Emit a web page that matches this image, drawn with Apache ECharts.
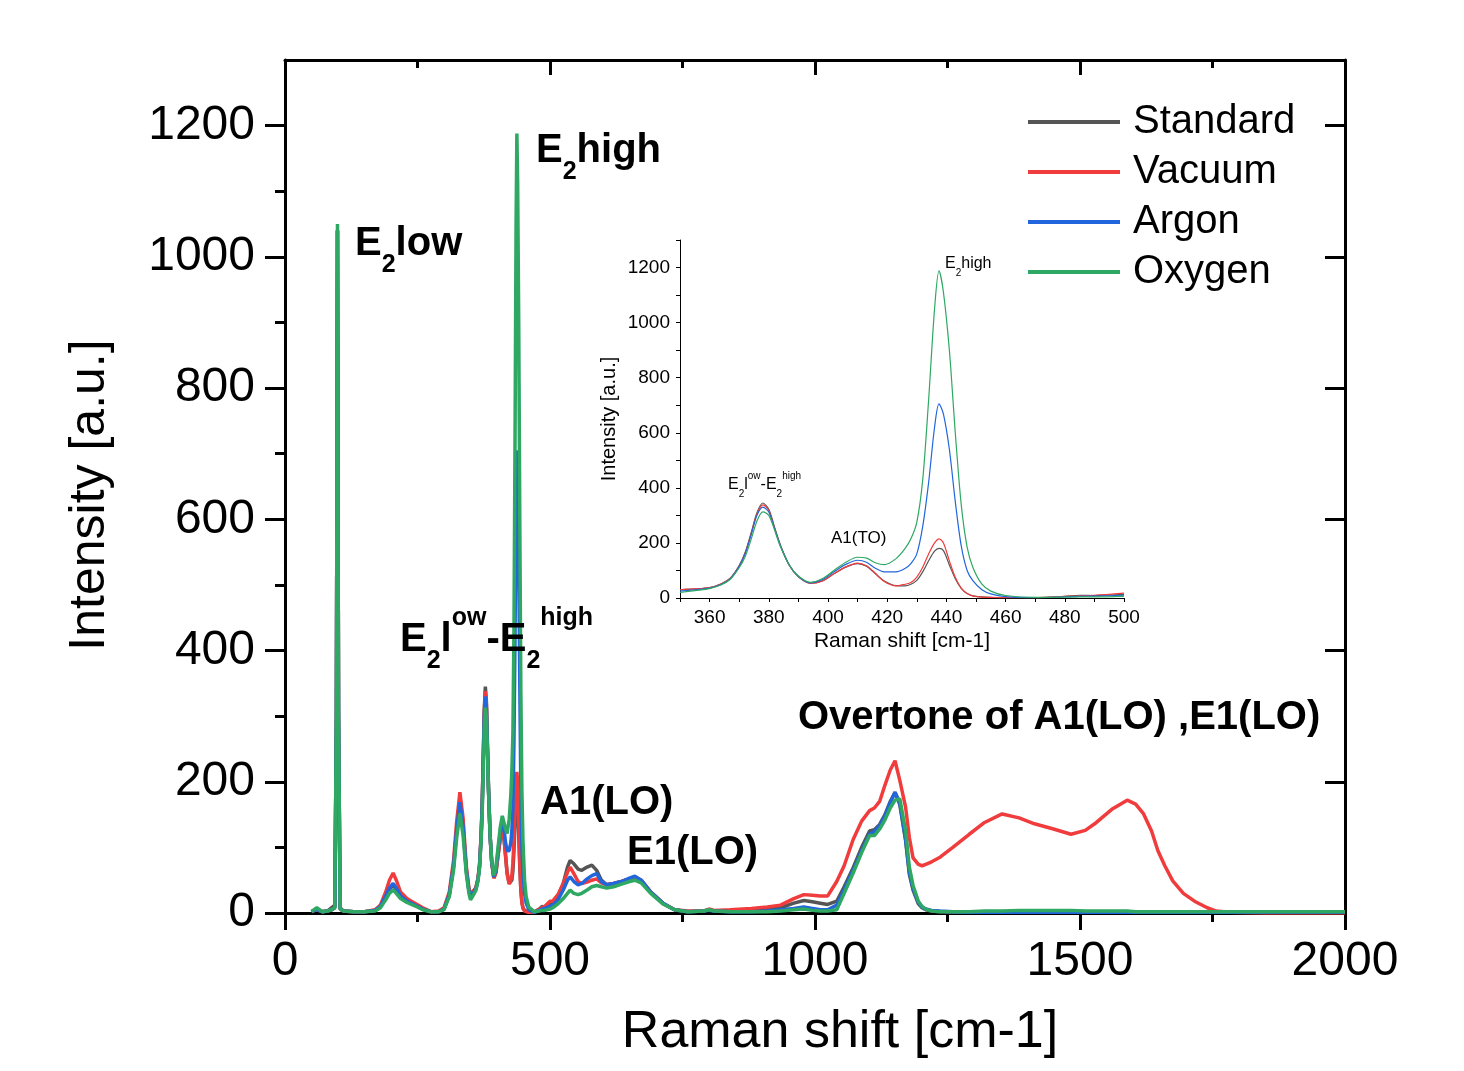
<!DOCTYPE html>
<html>
<head>
<meta charset="utf-8">
<script src="https://cdn.jsdelivr.net/npm/echarts@6/dist/echarts.min.js"></script>
<style>
  html, body { margin: 0; padding: 0; background: #fff; }
  #chart { width: 1464px; height: 1071px; }
</style>
</head>
<body>
<div id="chart"></div>
<script>
// ---- data ----
const names = ['Standard', 'Vacuum', 'Argon', 'Oxygen'];
const colors = ['#555555', '#f03c3c', '#2166dc', '#2ea862'];

// 50 - 349 cm-1
const lowX = [50, 60, 70, 80, 88, 94, 97, 99, 101, 104, 110, 130, 150, 170, 180, 190, 197, 204, 210, 218, 230, 245, 260, 275, 290, 300, 310, 318, 324, 330, 336, 342, 347];
const stdLow = [2, 6, 2, 3, 8, 12, 300, 1040, 300, 8, 3, 2, 2, 4, 10, 25, 36, 42, 36, 25, 18, 12, 6, 2, 2, 6, 28, 70, 125, 168, 130, 65, 35];
const vacLow = [2, 5, 2, 3, 5, 8, 300, 1040, 300, 6, 3, 2, 2, 5, 12, 32, 50, 61, 50, 32, 22, 15, 8, 2, 3, 8, 32, 80, 140, 184, 145, 72, 38];
const argLow = [2, 5, 2, 3, 5, 8, 300, 1040, 300, 6, 3, 2, 2, 4, 10, 26, 38, 45, 38, 26, 18, 12, 6, 2, 2, 6, 28, 72, 128, 169, 132, 66, 34];
const oxyLow = [2, 8, 2, 3, 5, 8, 310, 1050, 310, 6, 3, 2, 2, 3, 8, 20, 30, 35, 30, 22, 16, 11, 5, 2, 2, 5, 25, 65, 115, 152, 118, 60, 30];

// 350 - 500 cm-1 (also the inset)
const insetX = [350, 355, 360, 364, 367, 370, 372, 374, 376, 378, 380, 382, 384, 387, 390, 394, 398, 402, 406, 410, 413, 416, 419, 423, 426, 428, 430, 432, 434, 436, 437.5, 439, 441, 443, 445, 447, 449, 452, 455, 460, 470, 480, 485, 490, 500];
const stdMid = [30, 33, 38, 52, 72, 118, 165, 235, 310, 345, 322, 255, 190, 118, 78, 54, 62, 88, 112, 125, 115, 88, 62, 45, 44, 50, 64, 95, 135, 170, 180, 172, 120, 70, 35, 16, 8, 4, 2, 1, 1, 6, 10, 9, 13];
const vacMid = [30, 33, 38, 52, 72, 117, 163, 232, 305, 338, 318, 252, 188, 117, 77, 53, 61, 88, 113, 127, 117, 90, 60, 44, 50, 56, 76, 112, 160, 200, 215, 200, 135, 75, 36, 16, 7, 3, 2, 1, 1, 6, 8, 10, 18];
const argMid = [25, 30, 36, 50, 70, 115, 160, 228, 300, 330, 312, 250, 188, 118, 78, 55, 66, 95, 122, 137, 130, 108, 95, 95, 107, 125, 160, 260, 420, 620, 705, 668, 540, 350, 190, 100, 62, 30, 15, 5, 1, 4, 6, 7, 10];
const oxyMid = [20, 27, 34, 48, 68, 110, 150, 212, 280, 313, 300, 245, 185, 118, 80, 57, 70, 100, 130, 148, 145, 128, 121, 143, 179, 215, 275, 430, 720, 1050, 1188, 1110, 900, 600, 340, 185, 110, 50, 25, 9, 2, 3, 4, 4, 6];

// 505 - 2000 cm-1
const highX = [505, 515, 525, 533, 538, 545, 553, 560, 570, 579, 588, 597, 607, 620, 635, 650, 660, 672, 690, 713, 735, 760, 790, 800, 810, 840, 880, 910, 935, 960, 979, 995, 1010, 1024, 1041, 1055, 1072, 1088, 1103, 1112, 1122, 1132, 1142, 1151, 1160, 1171, 1178, 1185, 1195, 1202, 1209, 1220, 1236, 1260, 1291, 1320, 1353, 1385, 1414, 1450, 1483, 1510, 1531, 1560, 1589, 1605, 1620, 1635, 1647, 1660, 1675, 1695, 1716, 1740, 1757, 1780, 1850, 1950, 2000];
const stdHigh = [15, 25, 45, 70, 80, 75, 67, 65, 70, 73, 65, 50, 43, 45, 48, 52, 55, 50, 32, 15, 5, 2, 3, 5, 3, 3, 4, 6, 8, 15, 19, 17, 15, 13, 18, 40, 69, 100, 125, 127, 135, 150, 170, 184, 165, 110, 59, 35, 14, 8, 5, 3, 2, 1, 1, 1, 1, 1, 1, 1, 1, 1, 1, 1, 1, 1, 1, 1, 1, 1, 1, 1, 1, 1, 1, 1, 1, 1, 1];
const vacHigh = [18, 28, 45, 62, 70, 60, 48, 45, 47, 50, 52, 46, 43, 45, 48, 52, 55, 50, 32, 15, 5, 3, 3, 6, 4, 5, 7, 9, 12, 22, 28, 27, 26, 26, 48, 72, 112, 140, 156, 160, 170, 195, 218, 232, 202, 161, 115, 84, 74, 72, 74, 78, 85, 100, 120, 138, 151, 145, 136, 128, 120, 126, 138, 158, 172, 166, 151, 125, 95, 72, 49, 30, 18, 8, 3, 1, 0, 0, 0];
const argHigh = [12, 20, 35, 50, 55, 48, 43, 45, 52, 57, 60, 48, 43, 45, 48, 53, 56, 50, 32, 15, 5, 2, 3, 4, 3, 2, 2, 3, 5, 7, 9, 7, 5, 5, 12, 35, 65, 95, 120, 124, 133, 148, 168, 184, 168, 112, 62, 38, 16, 9, 6, 4, 3, 2, 1, 1, 1, 1, 1, 1, 1, 1, 1, 1, 1, 1, 1, 1, 1, 1, 1, 1, 1, 1, 1, 1, 1, 1, 1];
const oxyHigh = [8, 14, 22, 30, 35, 30, 28, 30, 35, 40, 42, 40, 38, 40, 44, 48, 50, 46, 30, 14, 5, 2, 3, 5, 3, 2, 2, 2, 3, 5, 6, 4, 3, 3, 5, 30, 61, 92, 118, 118, 128, 142, 160, 172, 174, 125, 70, 42, 18, 10, 6, 3, 2, 2, 2, 3, 3, 4, 4, 4, 4, 3, 3, 3, 3, 2, 2, 2, 2, 2, 2, 2, 2, 2, 2, 2, 2, 2, 2];

// tick values
const yMajor = [0, 200, 400, 600, 800, 1000, 1200];
const yMinor = [100, 300, 500, 700, 900, 1100];

const mainX = lowX.concat(insetX, highX);
const mainY = [
  stdLow.concat(stdMid, stdHigh),
  vacLow.concat(vacMid, vacHigh),
  argLow.concat(argMid, argHigh),
  oxyLow.concat(oxyMid, oxyHigh)
];
const insetY = [stdMid, vacMid, argMid, oxyMid];

function zip(xs, ys) {
  return xs.map((x, i) => [x, ys[i]]);
}

const FONT = 'Liberation Sans';

// rich text: m = main, s = subscript, u = superscript
function rich(size, small, L, bold) {
  const base = { fontFamily: FONT, fontWeight: bold ? 'bold' : 'normal', color: '#000' };
  return {
    m: Object.assign({ fontSize: size, lineHeight: L, verticalAlign: 'middle' }, base),
    s: Object.assign({ fontSize: small, lineHeight: small, verticalAlign: 'bottom' }, base),
    u: Object.assign({ fontSize: small, lineHeight: small, verticalAlign: 'top' }, base)
  };
}
const bigRich = rich(40, 25, 68, true);
const smallRich = rich(16, 10, 28, false);

function label(left, top, text, r) {
  return { type: 'text', left: left, top: top, z: 100, style: { text: text, rich: r } };
}

const axisLineStyle = { color: '#000', width: 3 };
const thinLine = { color: '#000', width: 1 };
const plain = v => String(v);

let myChart = echarts.init(document.getElementById('chart'));

let series = [];
names.forEach((n, i) => {
  series.push({
    name: n,
    type: 'line',
    xAxisIndex: 0,
    yAxisIndex: 0,
    data: zip(mainX, mainY[i]),
    showSymbol: false,
    symbol: 'none',
    lineStyle: { width: 3.5, color: colors[i] },
    itemStyle: { color: colors[i] },
    z: 2 + i
  });
});
names.forEach((n, i) => {
  series.push({
    name: n,
    type: 'line',
    xAxisIndex: 2,
    yAxisIndex: 4,
    data: zip(insetX, insetY[i]),
    showSymbol: false,
    symbol: 'none',
    smooth: 0.3,
    lineStyle: { width: 1.2, color: colors[i] },
    itemStyle: { color: colors[i] },
    z: 2 + i
  });
});

let option = {
  animation: false,
  backgroundColor: '#fff',
  legend: {
    data: names,
    orient: 'vertical',
    left: 1023,
    top: 95,
    icon: 'rect',
    itemWidth: 92,
    itemHeight: 4,
    itemGap: 6,
    selectedMode: false,
    textStyle: { fontFamily: FONT, fontSize: 40, lineHeight: 44, color: '#000', padding: [0, 0, 0, 8] }
  },
  grid: [
    { left: 285, right: 119, top: 60, bottom: 158, outerBoundsMode: 'none' },
    { left: 680, width: 444, top: 240, height: 358, outerBoundsMode: 'none' }
  ],
  xAxis: [
    {
      type: 'value', gridIndex: 0, position: 'bottom', min: 0, max: 2000, interval: 500,
      name: 'Raman shift [cm-1]', nameLocation: 'middle', nameGap: 94, nameMoveOverlap: false,
      nameTextStyle: { fontFamily: FONT, fontSize: 52, color: '#000', padding: [0, 0, 0, 50] },
      axisLine: { lineStyle: axisLineStyle, onZero: false },
      axisTick: { length: 17, lineStyle: axisLineStyle },
      minorTick: { show: true, splitNumber: 2, length: 9, lineStyle: axisLineStyle },
      axisLabel: { fontFamily: FONT, fontSize: 48, color: '#000', margin: 25, formatter: plain },
      splitLine: { show: false }
    },
    {
      type: 'value', gridIndex: 0, position: 'top', min: 0, max: 2000, interval: 500,
      axisLine: { lineStyle: axisLineStyle, onZero: false },
      axisTick: { inside: true, length: 15, lineStyle: axisLineStyle },
      minorTick: { show: true, splitNumber: 2, length: 8, lineStyle: axisLineStyle },
      axisLabel: { show: false },
      splitLine: { show: false }
    },
    {
      type: 'value', gridIndex: 1, min: 350, max: 500, interval: 10,
      name: 'Raman shift [cm-1]', nameLocation: 'middle', nameGap: 33, nameMoveOverlap: false,
      nameTextStyle: { fontFamily: FONT, fontSize: 21, color: '#000' },
      axisLine: { lineStyle: thinLine, onZero: false },
      axisTick: { length: 4, lineStyle: thinLine },
      axisLabel: {
        fontFamily: FONT, fontSize: 19, color: '#000', margin: 10,
        formatter: v => (v % 20 === 0 ? String(v) : '')
      },
      splitLine: { show: false }
    }
  ],
  yAxis: [
    {
      type: 'value', gridIndex: 0, position: 'left', min: 0, max: 1300,
      name: 'Intensity [a.u.]', nameLocation: 'middle', nameGap: 170, nameMoveOverlap: false,
      nameTextStyle: { fontFamily: FONT, fontSize: 50, color: '#000', padding: [0, 17, 0, 0] },
      axisLine: { lineStyle: axisLineStyle, onZero: false },
      axisTick: { length: 20, lineStyle: axisLineStyle, customValues: yMajor },
      axisLabel: { fontFamily: FONT, fontSize: 48, color: '#000', margin: 30, customValues: yMajor, formatter: plain },
      splitLine: { show: false }
    },
    {
      type: 'value', gridIndex: 0, position: 'left', min: 0, max: 1300,
      axisLine: { show: false },
      axisTick: { length: 10, lineStyle: axisLineStyle, customValues: yMinor },
      axisLabel: { show: false },
      splitLine: { show: false }
    },
    {
      type: 'value', gridIndex: 0, position: 'right', min: 0, max: 1300,
      axisLine: { lineStyle: axisLineStyle, onZero: false },
      axisTick: { inside: true, length: 20, lineStyle: axisLineStyle, customValues: yMajor },
      axisLabel: { show: false },
      splitLine: { show: false }
    },
    {
      type: 'value', gridIndex: 0, position: 'right', min: 0, max: 1300,
      axisLine: { show: false },
      axisTick: { inside: true, length: 10, lineStyle: axisLineStyle, customValues: yMinor },
      axisLabel: { show: false },
      splitLine: { show: false }
    },
    {
      type: 'value', gridIndex: 1, min: 0, max: 1300, interval: 100,
      name: 'Intensity [a.u.]', nameLocation: 'middle', nameGap: 61, nameMoveOverlap: false,
      nameTextStyle: { fontFamily: FONT, fontSize: 20, color: '#000' },
      axisLine: { lineStyle: thinLine, onZero: false },
      axisTick: { length: 4, lineStyle: thinLine },
      axisLabel: {
        fontFamily: FONT, fontSize: 19, color: '#000', margin: 10,
        formatter: v => (v % 200 === 0 ? String(v) : '')
      },
      splitLine: { show: false }
    }
  ],
  graphic: [
    label(355, 224, '{m|E}{s|2}{m|low}', bigRich),
    label(536, 131, '{m|E}{s|2}{m|high}', bigRich),
    label(400, 606, '{m|E}{s|2}{m|l}{u|ow}{m|-E}{s|2}{u|high}', bigRich),
    label(540, 783, '{m|A1(LO)}', bigRich),
    label(627, 833, '{m|E1(LO)}', bigRich),
    label(798, 698, '{m|Overtone of A1(LO) ,E1(LO)}', bigRich),
    label(945, 256, '{m|E}{s|2}{m|high}', smallRich),
    label(728, 471, '{m|E}{s|2}{m|l}{u|ow}{m|-E}{s|2}{u|high}', smallRich),
    { type: 'text', left: 831, top: 530, z: 100, style: { text: 'A1(TO)', font: '17px "Liberation Sans"', fill: '#000' } }
  ],
  series: series
};

myChart.setOption(option);
</script>
</body>
</html>
